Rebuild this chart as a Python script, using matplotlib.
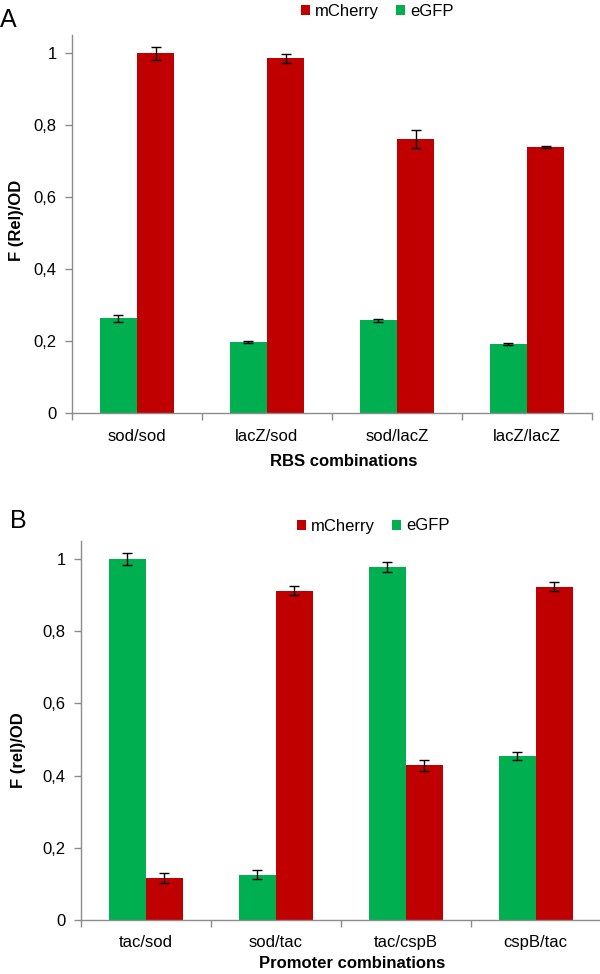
import matplotlib
matplotlib.use("Agg")
import matplotlib.pyplot as plt
from matplotlib.patches import Patch
import numpy as np

plt.rcParams['font.family'] = ['Liberation Sans', 'DejaVu Sans']

# Panel A data
cats_a = ["sod/sod", "lacZ/sod", "sod/lacZ", "lacZ/lacZ"]
egfp_a = [0.264, 0.199, 0.259, 0.192]
egfp_a_err = [0.010, 0.003, 0.004, 0.002]
mcherry_a = [1.000, 0.986, 0.763, 0.740]
mcherry_a_err = [0.018, 0.012, 0.025, 0.002]

# Panel B data
cats_b = ["tac/sod", "sod/tac", "tac/cspB", "cspB/tac"]
egfp_b = [1.000, 0.126, 0.979, 0.455]
egfp_b_err = [0.016, 0.012, 0.014, 0.011]
mcherry_b = [0.116, 0.912, 0.428, 0.923]
mcherry_b_err = [0.014, 0.013, 0.014, 0.013]

yticks = [0, 0.2, 0.4, 0.6, 0.8, 1.0]
ytick_labels = ["0", "0,2", "0,4", "0,6", "0,8", "1"]

RED = "#C00000"
GREEN = "#00B050"
GRAY = "#8C8C8C"

W, H = 600, 974
fig = plt.figure(figsize=(W / 100, H / 100), dpi=100)


def px_axes(left, right, y0, ytop):
    return fig.add_axes([left / W, (H - y0) / H, (right - left) / W, (y0 - ytop) / H])


def draw_panel(ax, cats, g, ge, r, re):
    x = np.arange(len(cats))
    bw = 0.285
    ax.bar(x - bw / 2, g, bw, color=GREEN, yerr=ge,
           error_kw=dict(ecolor="black", elinewidth=1.0, capsize=3.5, capthick=1.0))
    ax.bar(x + bw / 2, r, bw, color=RED, yerr=re,
           error_kw=dict(ecolor="black", elinewidth=1.0, capsize=3.5, capthick=1.0))
    ax.set_xlim(-0.5, len(cats) - 0.5)
    ax.set_ylim(0, 1.05)
    ax.set_yticks(yticks)
    ax.set_yticklabels(ytick_labels)
    ax.set_xticks(np.arange(-0.5, len(cats), 1.0))
    ax.set_xticklabels([])
    ax.set_xticks(x, minor=True)
    ax.set_xticklabels(cats, minor=True)
    ax.tick_params(axis='x', which='minor', length=0, pad=11, labelsize=12)
    ax.tick_params(axis='x', which='major', length=5, color=GRAY, width=1)
    ax.tick_params(axis='y', length=5, color=GRAY, width=1, pad=6, labelsize=12)
    for s in ["top", "right"]:
        ax.spines[s].set_visible(False)
    for s in ["left", "bottom"]:
        ax.spines[s].set_color(GRAY)
        ax.spines[s].set_linewidth(1.0)


axA = px_axes(72, 592, 413.3, 413.3 - 1.05 * 360)
draw_panel(axA, cats_a, egfp_a, egfp_a_err, mcherry_a, mcherry_a_err)
axB = px_axes(81, 600.5, 920, 920 - 1.05 * 361)
draw_panel(axB, cats_b, egfp_b, egfp_b_err, mcherry_b, mcherry_b_err)


def ft(xp, yp, s, **kw):
    fig.text(xp / W, 1 - yp / H, s, **kw)


ft(0, 20, "A", fontsize=18, ha="left", va="center")
ft(10, 521, "B", fontsize=18, ha="left", va="center")
ft(17, 220, "F (Rel)/OD", fontsize=12, fontweight="bold", rotation=90, ha="center", va="center")
ft(19, 750, "F (rel)/OD", fontsize=12, fontweight="bold", rotation=90, ha="center", va="center")
ft(344, 462, "RBS combinations", fontsize=12, fontweight="bold", ha="center", va="center")
ft(352, 963, "Promoter combinations", fontsize=12, fontweight="bold", ha="center", va="center")

handles = [Patch(facecolor=RED, label="mCherry"), Patch(facecolor=GREEN, label="eGFP")]
for (cx, cy) in [(377, 11.5), (373, 526)]:
    fig.legend(handles=handles, loc="center", bbox_to_anchor=(cx / W, 1 - cy / H),
               ncol=2, frameon=False, fontsize=12, handlelength=0.55, handleheight=0.55,
               handletextpad=0.3, columnspacing=1.0, borderpad=0)

fig.savefig("out.png", dpi=100)
